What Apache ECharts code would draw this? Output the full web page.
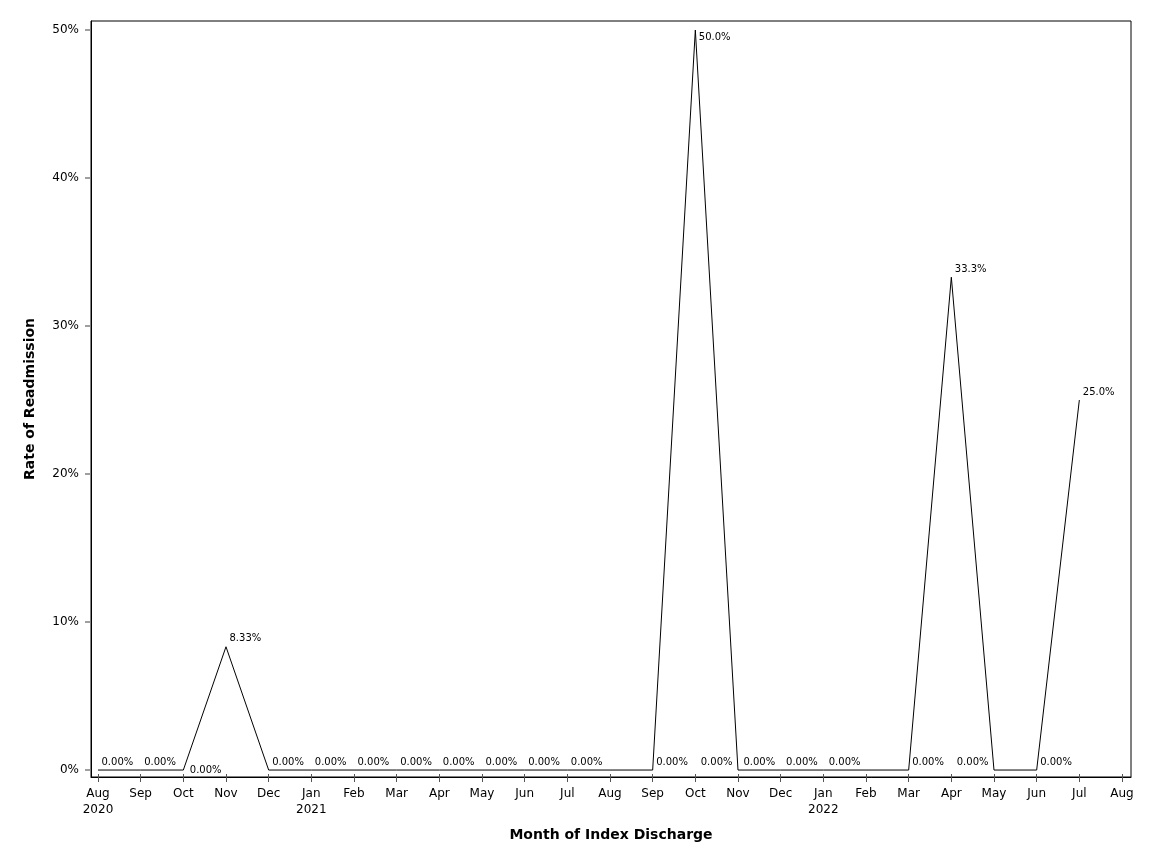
<!DOCTYPE html>
<html>
<head>
<meta charset="utf-8">
<script src="https://cdn.jsdelivr.net/npm/echarts@6/dist/echarts.min.js"></script>
<style>
  html, body { margin: 0; padding: 0; background: #ffffff; }
  #chart { width: 1152px; height: 864px; }
</style>
</head>
<body>
<div id="chart"></div>
<script>
// month ticks along the axis, Aug 2020 .. Aug 2022
const monthNames = ['Aug', 'Sep', 'Oct', 'Nov', 'Dec', 'Jan', 'Feb', 'Mar', 'Apr', 'May', 'Jun', 'Jul',
                    'Aug', 'Sep', 'Oct', 'Nov', 'Dec', 'Jan', 'Feb', 'Mar', 'Apr', 'May', 'Jun', 'Jul', 'Aug']
const yearNames = ['2020', '', '', '', '', '2021', '', '', '', '', '', '',
                   '', '', '', '', '', '2022', '', '', '', '', '', '', '']
// rate of readmission (%), one per month of index discharge, Aug 2020 .. Jul 2022
const rates = [0, 0, 0, 8.33, 0, 0, 0, 0, 0, 0, 0, 0,
               0, 0, 50.0, 0, 0, 0, 0, 0, 33.3, 0, 0, 25.0]
const yTicks = [0, 10, 20, 30, 40, 50]

const FONT = 'DejaVu Sans'
const tickIdx = monthNames.map(function (m, i) { return i })

// where SAS put each data label
function labelFor(i, v) {
    const lab = {
        show: true, color: '#000', fontFamily: FONT, fontSize: 10,
        position: 'right', distance: 3, offset: [0, -8],
        formatter: function (p) { return p.value[1].toPrecision(3) + '%' }
    }
    if (i === 12) lab.show = false
    else if (i === 2) lab.offset = [3, 0]
    else if (i === 14) lab.offset = [0, 7]
    else if (i === 15 || i === 16 || i === 17 || i === 18 || i === 21) {
        lab.position = 'left'; lab.distance = 5
    }
    return lab
}

const seriesData = rates.map(function (v, i) {
    return { value: [i, v], label: labelFor(i, v) }
})

const chart = echarts.init(document.getElementById('chart'))
chart.setOption({
    backgroundColor: '#ffffff',
    animation: false,
    grid: {
        left: 91, right: 21, top: 21, bottom: 87,
        show: true, borderColor: '#000', borderWidth: 1, backgroundColor: 'transparent'
    },
    xAxis: [{
        type: 'value', min: -0.164, max: 24.211,
        name: 'Month of Index Discharge', nameLocation: 'middle', nameGap: 51,
        nameTextStyle: { fontFamily: FONT, fontSize: 14, fontWeight: 'bold', color: '#000' },
        axisLine: { show: true, onZero: false, lineStyle: { color: '#000', width: 1 } },
        axisTick: { show: true, length: 5, customValues: tickIdx, lineStyle: { color: '#555' } },
        axisLabel: {
            customValues: tickIdx, margin: 9,
            fontFamily: FONT, fontSize: 12, color: '#000', lineHeight: 16,
            formatter: function (v) {
                const i = Math.round(v)
                return yearNames[i] ? monthNames[i] + '\n' + yearNames[i] : monthNames[i]
            }
        },
        splitLine: { show: false }
    }, {
        type: 'value', min: -0.164, max: 24.211, position: 'bottom',
        axisLine: { show: false, onZero: false },
        axisTick: { show: true, inside: true, length: 3, customValues: tickIdx, lineStyle: { color: '#555' } },
        axisLabel: { show: false },
        splitLine: { show: false }
    }],
    yAxis: {
        type: 'value', min: -0.47, max: 50.61,
        name: 'Rate of Readmission', nameLocation: 'middle', nameGap: 54,
        nameTextStyle: { fontFamily: FONT, fontSize: 14, fontWeight: 'bold', color: '#000' },
        axisLine: { show: true, onZero: false, lineStyle: { color: '#000', width: 1 } },
        axisTick: { show: true, length: 6, customValues: yTicks, lineStyle: { color: '#808080', width: 1.5 } },
        axisLabel: {
            customValues: yTicks, margin: 12,
            fontFamily: FONT, fontSize: 12, color: '#000',
            formatter: function (v) { return v + '%' }
        },
        splitLine: { show: false }
    },
    series: [{
        type: 'line',
        data: seriesData,
        symbol: 'circle', symbolSize: 1, showSymbol: true,
        itemStyle: { color: 'rgba(0,0,0,0)' },
        lineStyle: { color: '#000', width: 1 }
    }]
})
</script>
</body>
</html>
